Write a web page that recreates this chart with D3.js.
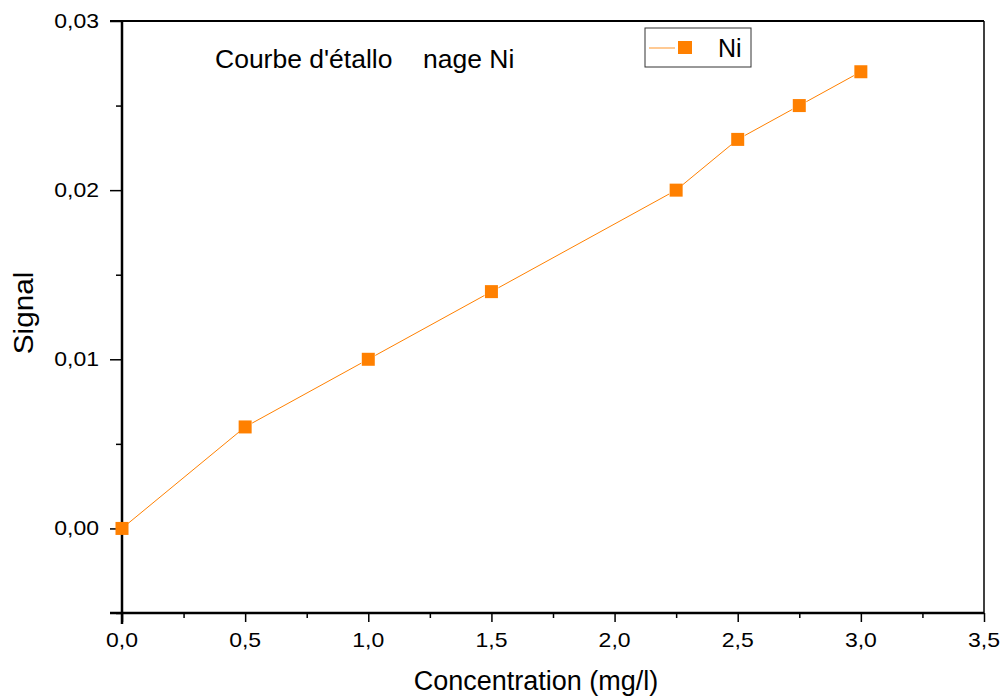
<!DOCTYPE html>
<html>
<head>
    <script src="https://d3js.org/d3.v7.min.js"></script>
    <style>
        body { margin: 0; background: #fff; }
        svg { font-family: "Liberation Sans", Arial, sans-serif; }
        .axis path { display: none; }
        .axis line { stroke: #000; stroke-width: 1.5; }
        .ticklabel { font-size: 20px; fill: #000; }
    </style>
</head>
<body>
<div id="chart"></div>
<script>
    const concentration = [0, 0.5, 1.0, 1.5, 2.25, 2.5, 2.75, 3.0];
    const signal = [0, 0.006, 0.010, 0.014, 0.020, 0.023, 0.025, 0.027];
    const xTicks = [0, 0.5, 1.0, 1.5, 2.0, 2.5, 3.0, 3.5];
    const yTicks = [0, 0.01, 0.02, 0.03];
    const seriesName = "Ni";

    const width = 1008, height = 699;
    const margin = {top: 21, right: 24, bottom: 86, left: 122};
    const orange = "#ff8000";
    const fmt = d3.format(".1f"), fmtY = d3.format(".2f");
    const comma = s => s.replace(".", ",");
    const stretch = 1.15;

    const svg = d3.select("#chart").append("svg")
        .attr("width", width)
        .attr("height", height);

    const x = d3.scaleLinear().domain([0, 3.5]).range([margin.left, width - margin.right]);
    const y = d3.scaleLinear().domain([-0.005, 0.03]).range([height - margin.bottom, margin.top]);

    // frame
    const x0 = x.range()[0], x1 = x.range()[1], y0 = y.range()[0], y1 = y.range()[1];
    svg.append("line").attr("x1", x0 - 12).attr("x2", x1).attr("y1", y1).attr("y2", y1)
        .attr("stroke", "#000").attr("stroke-width", 2);
    svg.append("line").attr("x1", x1).attr("x2", x1).attr("y1", y0).attr("y2", y1)
        .attr("stroke", "#000").attr("stroke-width", 1.5);

    // minor ticks
    svg.append("g").attr("class", "axis")
        .attr("transform", `translate(0,${y0})`)
        .call(d3.axisBottom(x).tickValues(d3.range(0.25, 3.5, 0.5)).tickSize(5).tickFormat(""));
    svg.append("g").attr("class", "axis")
        .attr("transform", `translate(${x0},0)`)
        .call(d3.axisLeft(y).tickValues([-0.005, 0.005, 0.015, 0.025]).tickSize(6).tickFormat(""));

    // major ticks (labels drawn separately, slightly wide like the original)
    svg.append("g").attr("class", "axis")
        .attr("transform", `translate(0,${y0})`)
        .call(d3.axisBottom(x).tickValues(xTicks).tickSize(9).tickFormat(""));
    svg.append("g").attr("class", "axis")
        .attr("transform", `translate(${x0},0)`)
        .call(d3.axisLeft(y).tickValues(yTicks).tickSize(12).tickFormat(""));

    svg.selectAll(".xl")
        .data(xTicks)
        .enter().append("g")
        .attr("transform", d => `translate(${x(d)},647) scale(${stretch},1)`)
        .append("text")
        .attr("class", "ticklabel")
        .attr("text-anchor", "middle")
        .text(d => comma(fmt(d)));

    svg.selectAll(".yl")
        .data(yTicks)
        .enter().append("g")
        .attr("transform", d => `translate(99,${y(d) + 7}) scale(${stretch},1)`)
        .append("text")
        .attr("class", "ticklabel")
        .attr("text-anchor", "end")
        .text(d => comma(fmtY(d)));

    // axis lines
    svg.append("line").attr("x1", x0 - 12).attr("x2", x1).attr("y1", y0).attr("y2", y0)
        .attr("stroke", "#000").attr("stroke-width", 2.5);
    svg.append("line").attr("x1", x0).attr("x2", x0).attr("y1", y0 + 11).attr("y2", y1 - 1)
        .attr("stroke", "#000").attr("stroke-width", 2.5);

    // axis titles
    svg.append("text")
        .attr("x", 536).attr("y", 690)
        .attr("text-anchor", "middle")
        .attr("font-size", 27)
        .text("Concentration (mg/l)");
    svg.append("g")
        .attr("transform", `translate(33,313) rotate(-90) scale(1.1,1)`)
        .append("text")
        .attr("text-anchor", "middle")
        .attr("font-size", 27)
        .text("Signal");

    // series line, segments stop short of the markers
    const pts = concentration.map((c, i) => [x(c), y(signal[i])]);
    const gap = 8;
    for (let i = 0; i < pts.length - 1; i++) {
        const [ax, ay] = pts[i], [bx, by] = pts[i + 1];
        const len = Math.hypot(bx - ax, by - ay);
        const ux = (bx - ax) / len, uy = (by - ay) / len;
        const g0 = i === 0 ? 3 : gap;
        svg.append("line")
            .attr("x1", ax + ux * g0).attr("y1", ay + uy * g0)
            .attr("x2", bx - ux * gap).attr("y2", by - uy * gap)
            .attr("stroke", orange).attr("stroke-width", 1);
    }

    svg.selectAll(".pt")
        .data(concentration)
        .enter().append("rect")
        .attr("class", "pt")
        .attr("x", d => x(d) - 6.5)
        .attr("y", (d, i) => y(signal[i]) - 6.5)
        .attr("width", 13).attr("height", 13)
        .attr("fill", orange);

    // annotation (gap kept as in the original)
    svg.append("text")
        .attr("x", 215).attr("y", 68)
        .attr("font-size", 26.5)
        .text("Courbe d'étallo");
    svg.append("text")
        .attr("x", 423).attr("y", 68)
        .attr("font-size", 26.5)
        .text("nage Ni");

    // legend
    const lg = svg.append("g").attr("transform", "translate(645,28)");
    lg.append("rect").attr("width", 106).attr("height", 39)
        .attr("fill", "#fff").attr("stroke", "#333").attr("stroke-width", 1);
    lg.append("line").attr("x1", 4).attr("x2", 30).attr("y1", 20).attr("y2", 20)
        .attr("stroke", "#ffb870").attr("stroke-width", 1.5);
    lg.append("rect").attr("x", 33).attr("y", 13).attr("width", 14).attr("height", 13).attr("fill", orange);
    lg.append("text").attr("x", 73).attr("y", 29).attr("font-size", 25).text(seriesName);
</script>
</body>
</html>
